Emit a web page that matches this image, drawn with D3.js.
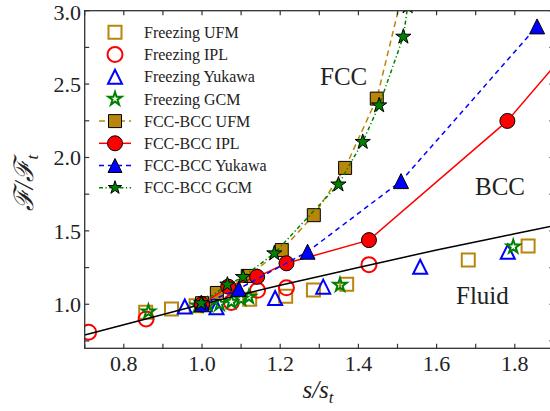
<!DOCTYPE html>
<html>
<head>
  <meta charset="utf-8">
  <style>
    body { margin: 0; background: #fff; }
    svg text { font-family: "Liberation Serif", "DejaVu Serif", serif; fill: #222; }
  </style>
  <title>Freezing and FCC-BCC lines</title>
</head>
<body>
  <script src="https://cdn.jsdelivr.net/npm/d3@7"></script>
  <script>
    // ---- data: [s/s_t, F/F_t] ----
    var freezeUFM = [[0.856, 0.946], [0.922, 0.968], [0.985, 0.99], [1.122, 1.035], [1.214, 1.055],
                     [1.285, 1.097], [1.370, 1.136], [1.681, 1.301], [1.834, 1.397]];
    var freezeIPL = [[0.71, 0.81], [0.857, 0.90], [1.0, 1.0], [1.075, 1.012], [1.142, 1.095],
                     [1.216, 1.112], [1.427, 1.27]];
    var freezeYukawa = [[0.956, 0.985], [1.037, 0.98], [1.187, 1.043], [1.310, 1.12],
                        [1.558, 1.256], [1.782, 1.358]];
    var freezeGCM = [[0.863, 0.95], [0.99, 0.99], [1.015, 0.995], [1.045, 1.002], [1.075, 1.016],
                     [1.10, 1.036], [1.12, 1.05], [1.353, 1.131], [1.796, 1.392]];

    var fbUFM = [[1.0, 1.007], [1.038, 1.077], [1.117, 1.193], [1.204, 1.369], [1.286, 1.607],
                 [1.366, 1.929], [1.447, 2.401], [1.52, 3.2]];
    var fbIPL = [[1.0, 1.0], [1.067, 1.12], [1.141, 1.187], [1.216, 1.279], [1.427, 1.437],
                 [1.781, 2.249], [2.0, 2.93]];
    var fbYukawa = [[1.0, 1.0], [1.094, 1.105], [1.270, 1.358], [1.509, 1.839], [1.857, 2.893]];
    var fbGCM = [[0.998, 1.007], [1.065, 1.134], [1.105, 1.186], [1.185, 1.347], [1.349, 1.816],
                 [1.411, 2.106], [1.453, 2.355], [1.515, 2.823], [1.526, 3.03]];

    // fluid boundary (black curve)
    var fluidLine = [[0.7, 0.79], [0.9, 0.93], [1.0, 1.0], [1.2, 1.13], [1.4, 1.25],
                     [1.6, 1.37], [1.8, 1.48], [1.9, 1.535]];

    var xTicks = [0.7, 0.8, 0.9, 1.0, 1.1, 1.2, 1.3, 1.4, 1.5, 1.6, 1.7, 1.8, 1.9];
    var xLabels = [0.8, 1.0, 1.2, 1.4, 1.6, 1.8];
    var yTicks = [0.75, 1.0, 1.25, 1.5, 1.75, 2.0, 2.25, 2.5, 2.75, 3.0];
    var yLabels = [1.0, 1.5, 2.0, 2.5, 3.0];

    var gold = "#b8860b", red = "#ff0000", blue = "#0000ff", green = "#008000";

    var W = 550, H = 411;
    var x = d3.scaleLinear().domain([0.7, 1.9]).range([84.7, 553.9]);
    var y = d3.scaleLinear().domain([0.7, 3.0]).range([348.3, 10.7]);

    var svg = d3.select("body").append("svg")
      .attr("width", W).attr("height", H);

    svg.append("defs").append("clipPath").attr("id", "plotclip")
      .append("rect")
      .attr("x", x(0.7)).attr("y", y(3.0))
      .attr("width", x(1.9) - x(0.7)).attr("height", y(0.7) - y(3.0));

    // marker shapes, sz = full width in px
    function markerPath(shape, sz) {
      var h = sz / 2;
      if (shape == "square") return "M" + (-h) + "," + (-h) + "H" + h + "V" + h + "H" + (-h) + "Z";
      if (shape == "circle") return "M" + h + ",0A" + h + "," + h + " 0 1,1 " + (-h) + ",0A" + h + "," + h + " 0 1,1 " + h + ",0Z";
      if (shape == "triangle") return "M0," + (-h) + "L" + h + "," + h + "L" + (-h) + "," + h + "Z";
      // five pointed star
      var pts = [];
      for (var i = 0; i < 10; i++) {
        var r = (i % 2 == 0) ? h : h * 0.3819;
        var a = -Math.PI / 2 + i * Math.PI / 5;
        pts.push([r * Math.cos(a), r * Math.sin(a)]);
      }
      return "M" + pts.join("L") + "Z";
    }

    var plot = svg.append("g").attr("clip-path", "url(#plotclip)");

    function openSeries(data, shape, sz, col) {
      plot.append("g").selectAll("path")
        .data(data).enter().append("path")
        .attr("d", markerPath(shape, sz))
        .attr("transform", function(d) { return "translate(" + x(d[0]) + "," + y(d[1]) + ")"; })
        .attr("fill", "none")
        .attr("stroke", col)
        .attr("stroke-width", 2);
    }

    function lineSeries(data, shape, sz, col, fillcol, dash) {
      var line = d3.line().x(function(d) { return x(d[0]); }).y(function(d) { return y(d[1]); });
      plot.append("path")
        .datum(data)
        .attr("d", line)
        .attr("fill", "none")
        .attr("stroke", col)
        .attr("stroke-width", 1.5)
        .attr("stroke-dasharray", dash);
      plot.append("g").selectAll("path")
        .data(data).enter().append("path")
        .attr("d", markerPath(shape, sz))
        .attr("transform", function(d) { return "translate(" + x(d[0]) + "," + y(d[1]) + ")"; })
        .attr("fill", fillcol)
        .attr("stroke", "#000")
        .attr("stroke-width", 1);
    }

    // open freezing markers
    openSeries(freezeUFM, "square", 13, gold);
    openSeries(freezeIPL, "circle", 15, red);
    openSeries(freezeYukawa, "triangle", 14, blue);
    openSeries(freezeGCM, "star", 14, green);

    // fluid line
    plot.append("path")
      .datum(fluidLine)
      .attr("d", d3.line().curve(d3.curveMonotoneX)
        .x(function(d) { return x(d[0]); }).y(function(d) { return y(d[1]); }))
      .attr("fill", "none")
      .attr("stroke", "#000")
      .attr("stroke-width", 1.5);

    // FCC-BCC lines
    lineSeries(fbUFM, "square", 13, gold, gold, "6,4");
    lineSeries(fbIPL, "circle", 15, red, red, null);
    lineSeries(fbYukawa, "triangle", 15, blue, blue, "5,4");
    lineSeries(fbGCM, "star", 16, green, green, "4,2.5,1.2,2.5");

    // axes frame
    var frame = svg.append("g");
    frame.append("rect")
      .attr("x", x(0.7)).attr("y", y(3.0))
      .attr("width", x(1.9) - x(0.7)).attr("height", y(0.7) - y(3.0))
      .attr("fill", "none").attr("stroke", "#333").attr("stroke-width", 1.3);

    var tl = 4.5;
    frame.selectAll(".xtb").data(xTicks).enter().append("line")
      .attr("x1", function(d) { return x(d); }).attr("x2", function(d) { return x(d); })
      .attr("y1", y(0.7)).attr("y2", y(0.7) - tl)
      .attr("stroke", "#333").attr("stroke-width", 1.2);
    frame.selectAll(".xtt").data(xTicks).enter().append("line")
      .attr("x1", function(d) { return x(d); }).attr("x2", function(d) { return x(d); })
      .attr("y1", y(3.0)).attr("y2", y(3.0) + tl)
      .attr("stroke", "#333").attr("stroke-width", 1.2);
    frame.selectAll(".ytl").data(yTicks).enter().append("line")
      .attr("y1", function(d) { return y(d); }).attr("y2", function(d) { return y(d); })
      .attr("x1", x(0.7)).attr("x2", x(0.7) + tl)
      .attr("stroke", "#333").attr("stroke-width", 1.2);
    frame.selectAll(".ytr").data(yTicks).enter().append("line")
      .attr("y1", function(d) { return y(d); }).attr("y2", function(d) { return y(d); })
      .attr("x1", x(1.9)).attr("x2", x(1.9) - tl)
      .attr("stroke", "#333").attr("stroke-width", 1.2);

    frame.selectAll(".xl").data(xLabels).enter().append("text")
      .attr("x", function(d) { return x(d); })
      .attr("y", 371)
      .attr("text-anchor", "middle")
      .attr("font-size", "22px")
      .text(function(d) { return d3.format(".1f")(d); });
    frame.selectAll(".yl").data(yLabels).enter().append("text")
      .attr("x", 81)
      .attr("y", function(d) { return d == 3.0 ? y(d) + 2 : y(d); })
      .attr("dy", "0.35em")
      .attr("text-anchor", "end")
      .attr("font-size", "22px")
      .text(function(d) { return d3.format(".1f")(d); });

    // axis titles
    var xt = svg.append("text")
      .attr("x", 318).attr("y", 398)
      .attr("text-anchor", "middle")
      .attr("font-size", "25px")
      .attr("font-style", "italic");
    xt.append("tspan").text("s/s");
    xt.append("tspan").attr("dy", 5).attr("font-size", "17px").text("t");

    var yt = svg.append("text")
      .attr("transform", "translate(33,183) rotate(-90)")
      .attr("text-anchor", "middle")
      .attr("font-size", "27px")
      .attr("font-style", "italic");
    yt.append("tspan").text("\u2131/\u2131");
    yt.append("tspan").attr("dy", 5).attr("font-size", "17px").text("t");

    // region labels
    svg.append("text").attr("x", 320).attr("y", 85).attr("font-size", "25px").text("FCC");
    svg.append("text").attr("x", 475).attr("y", 195).attr("font-size", "25px").text("BCC");
    svg.append("text").attr("x", 456).attr("y", 304).attr("font-size", "25px").text("Fluid");

    // legend
    var legendNames = ["Freezing UFM", "Freezing IPL", "Freezing Yukawa", "Freezing GCM",
                       "FCC-BCC UFM", "FCC-BCC IPL", "FCC-BCC Yukawa", "FCC-BCC GCM"];
    var legendShapes = ["square", "circle", "triangle", "star", "square", "circle", "triangle", "star"];
    var legendCols = [gold, red, blue, green, gold, red, blue, green];
    var legendDash = [null, null, null, null, "6,4", null, "5,4", "4,2.5,1.2,2.5"];
    var legend = svg.append("g");
    legendNames.forEach(function(name, i) {
      var ly = 32.3 + i * 22.2;
      var filled = i >= 4;
      if (filled) {
        legend.append("line")
          .attr("x1", 99).attr("x2", 131).attr("y1", ly).attr("y2", ly)
          .attr("stroke", legendCols[i]).attr("stroke-width", 1.5)
          .attr("stroke-dasharray", legendDash[i]);
      }
      legend.append("path")
        .attr("d", markerPath(legendShapes[i], legendShapes[i] == "circle" ? 15 : (legendShapes[i] == "square" ? 13 : 14)))
        .attr("transform", "translate(115," + ly + ")")
        .attr("fill", filled ? legendCols[i] : "none")
        .attr("stroke", filled ? "#000" : legendCols[i])
        .attr("stroke-width", filled ? 1 : 2);
      legend.append("text")
        .attr("x", 144).attr("y", ly).attr("dy", "0.35em")
        .attr("font-size", "16px")
        .text(name);
    });
  </script>
</body>
</html>
